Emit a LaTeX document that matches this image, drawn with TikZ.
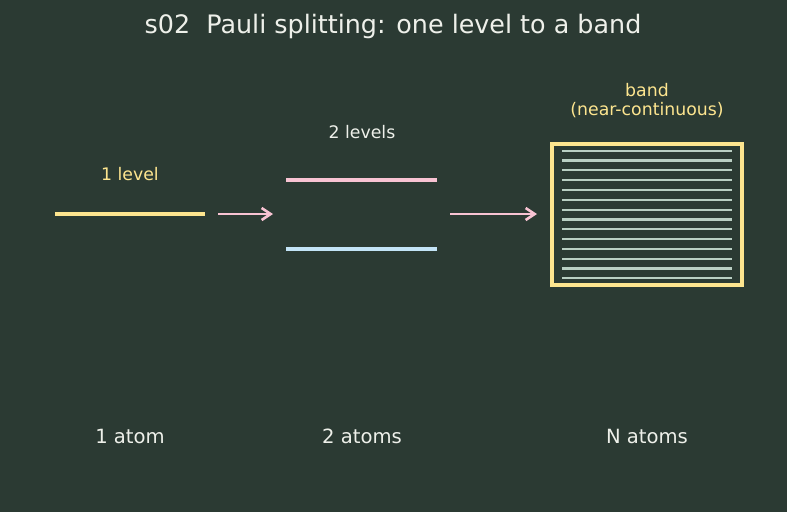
\documentclass[tikz,border=0pt]{standalone}
\usepackage{fontspec}
\setmainfont{DejaVu Sans}
\usetikzlibrary{arrows.meta}
\definecolor{bg}{HTML}{2B3A33}
\definecolor{lvlyellow}{HTML}{FDE58F}
\definecolor{lvlpink}{HTML}{F8C3D3}
\definecolor{lvlblue}{HTML}{C3E4F7}
\definecolor{bandline}{HTML}{B9CFC3}
\definecolor{txt}{HTML}{EEF0EA}
\tikzset{
  level/.style={line width=4.2pt},
  splitarrow/.style={draw=lvlpink, line width=2.6pt, -{Straight Barb[length=9pt,width=12pt,line width=2.6pt]}},
  lab/.style={text=txt, font=\fontsize{19.6}{23}\selectfont, inner sep=0pt},
  toplab/.style={font=\fontsize{17.3}{20}\selectfont, inner sep=0pt, align=center},
}
\begin{document}
\begin{tikzpicture}[x=1pt,y=-1pt]
\fill[bg] (0,0) rectangle (787,512);
\useasboundingbox (0,0) rectangle (787,512);
\node[text=txt, font=\fontsize{25.4}{30}\selectfont, inner sep=0pt] (title) at (393,26) {s02\ \ Pauli splitting: one level to a band};
% one atom
\coordinate (l1a) at (55,214); \coordinate (l1b) at (205,214);
\draw[level, lvlyellow] (l1a) -- (l1b);
\node[toplab, text=lvlyellow] (lab1) at (130,174) {1 level};
% two atoms
\coordinate (l2ua) at (286,180); \coordinate (l2ub) at (437,180);
\coordinate (l2la) at (286,249); \coordinate (l2lb) at (437,249);
\draw[level, lvlpink] (l2ua) -- (l2ub);
\draw[level, lvlblue] (l2la) -- (l2lb);
\node[toplab, text=txt] (lab2) at (362,132) {2 levels};
% band
\node[draw=lvlyellow, line width=4.2pt, minimum width=190pt, minimum height=141pt, inner sep=0pt] (band) at (647,214.5) {};
\foreach \i in {0,...,13}{
  \draw[bandline, line width=2.2pt] (562,{150.7+9.82*\i}) -- (732,{150.7+9.82*\i});
}
\node[toplab, text=lvlyellow] (lab3a) at (647,90) {band};
\node[toplab, text=lvlyellow] (lab3b) at (647,110) {(near-continuous)};
% arrows
\coordinate (a1s) at (218,214); \coordinate (a1e) at (273,214);
\coordinate (a2s) at (450,214); \coordinate (a2e) at (537,214);
\draw[splitarrow] (a1s) -- (a1e);
\draw[splitarrow] (a2s) -- (a2e);
% bottom labels
\node[lab] (b1) at (130,436) {1 atom};
\node[lab] (b2) at (362,436) {2 atoms};
\node[lab] (b3) at (647,436) {N atoms};
\end{tikzpicture}
\end{document}
